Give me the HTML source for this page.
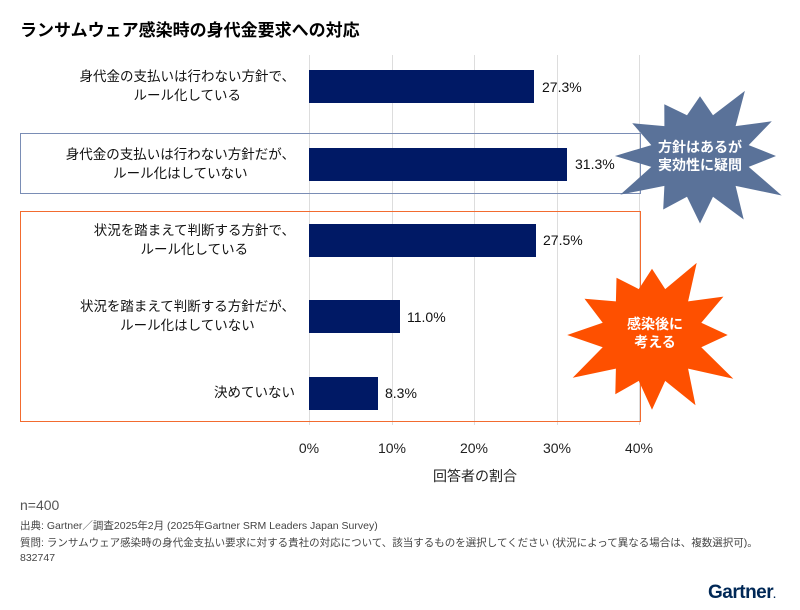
<!DOCTYPE html>
<html><head><meta charset="utf-8">
<style>
body{margin:0;background:#fff;font-family:"Liberation Sans","Noto Sans CJK JP",sans-serif;}
#c{position:relative;width:800px;height:610px;overflow:hidden;}
.t{position:absolute;white-space:nowrap;color:#000;}
.lab{position:absolute;right:505px;text-align:center;font-size:13.5px;line-height:19px;color:#111;}
.bar{position:absolute;left:309px;height:33px;background:#001965;}
.val{position:absolute;font-size:14px;color:#111;}
.g{position:absolute;top:55px;width:1px;height:370px;background:#ddd;}
.tick{position:absolute;top:440px;font-size:14px;color:#222;width:60px;text-align:center;}
.f{position:absolute;left:20px;font-size:10.5px;color:#444;white-space:nowrap;}
</style></head><body><div id="c">
<div class="t" style="left:20px;top:16px;font-size:17px;font-weight:bold;">ランサムウェア感染時の身代金要求への対応</div>
<div class="g" style="left:309px"></div><div class="g" style="left:392px"></div><div class="g" style="left:474px"></div><div class="g" style="left:557px"></div><div class="g" style="left:639px"></div>
<div style="position:absolute;left:20px;top:133px;width:619px;height:59px;border:1px solid #7a8db5;"></div>
<div style="position:absolute;left:20px;top:211px;width:619px;height:209px;border:1.5px solid #f26b2f;"></div>
<div class="lab" style="top:67px">身代金の支払いは行わない方針で、<br>ルール化している</div>
<div class="lab" style="top:145px">身代金の支払いは行わない方針だが、<br>ルール化はしていない</div>
<div class="lab" style="top:221px">状況を踏まえて判断する方針で、<br>ルール化している</div>
<div class="lab" style="top:297px">状況を踏まえて判断する方針だが、<br>ルール化はしていない</div>
<div class="lab" style="top:383px">決めていない</div>
<div class="bar" style="top:70px;width:225px"></div><div class="val" style="left:542px;top:79px">27.3%</div>
<div class="bar" style="top:148px;width:258px"></div><div class="val" style="left:575px;top:156px">31.3%</div>
<div class="bar" style="top:224px;width:227px"></div><div class="val" style="left:543px;top:232px">27.5%</div>
<div class="bar" style="top:300px;width:91px"></div><div class="val" style="left:407px;top:309px">11.0%</div>
<div class="bar" style="top:377px;width:69px"></div><div class="val" style="left:385px;top:385px">8.3%</div>
<div class="tick" style="left:279px">0%</div><div class="tick" style="left:362px">10%</div><div class="tick" style="left:444px">20%</div><div class="tick" style="left:527px">30%</div><div class="tick" style="left:609px">40%</div>
<div class="t" style="left:433px;top:466px;font-size:14px;color:#222">回答者の割合</div>
<svg width="800" height="610" style="position:absolute;left:0;top:0">
<polygon id="s1" fill="#5a7299"/><polygon id="s2" fill="#fe5000"/>
<text x="700" y="152" fill="#fff" font-size="14" font-weight="bold" text-anchor="middle" font-family="Liberation Sans,Noto Sans CJK JP,sans-serif">方針はあるが</text>
<text x="700" y="170" fill="#fff" font-size="14" font-weight="bold" text-anchor="middle" font-family="Liberation Sans,Noto Sans CJK JP,sans-serif">実効性に疑問</text>
<text x="655" y="329" fill="#fff" font-size="14" font-weight="bold" text-anchor="middle" font-family="Liberation Sans,Noto Sans CJK JP,sans-serif">感染後に</text>
<text x="655" y="347" fill="#fff" font-size="14" font-weight="bold" text-anchor="middle" font-family="Liberation Sans,Noto Sans CJK JP,sans-serif">考える</text>
</svg>
<div class="t" style="left:20px;top:497px;font-size:14px;color:#555">n=400</div>
<div class="f" style="top:518px">出典: Gartner／調査2025年2月 (2025年Gartner SRM Leaders Japan Survey)</div>
<div class="f" style="top:535px">質問: ランサムウェア感染時の身代金支払い要求に対する貴社の対応について、該当するものを選択してください (状況によって異なる場合は、複数選択可)。</div>
<div class="f" style="top:552px">832747</div>
<div class="t" style="left:708px;top:582px;font-size:19px;font-weight:bold;color:#002856;letter-spacing:-0.5px">Gartner<span style="font-size:10px">.</span></div>
<script>
function star(id,cx,cy,ro,ri,n,rx,ry){var p=[];for(var i=0;i<2*n;i++){var a=Math.PI*i/n-Math.PI/2;var r=i%2?ri:ro*(0.85+0.3*((i*37%11)/11));p.push((cx+Math.cos(a)*r*rx).toFixed(1)+","+(cy+Math.sin(a)*r*ry).toFixed(1));}document.getElementById(id).setAttribute("points",p.join(" "));}
star("s1",700,156,80,48,12,1.05,0.88);
star("s2",652,335,82,50,12,1.02,0.95);
</script>
</div></body></html>
